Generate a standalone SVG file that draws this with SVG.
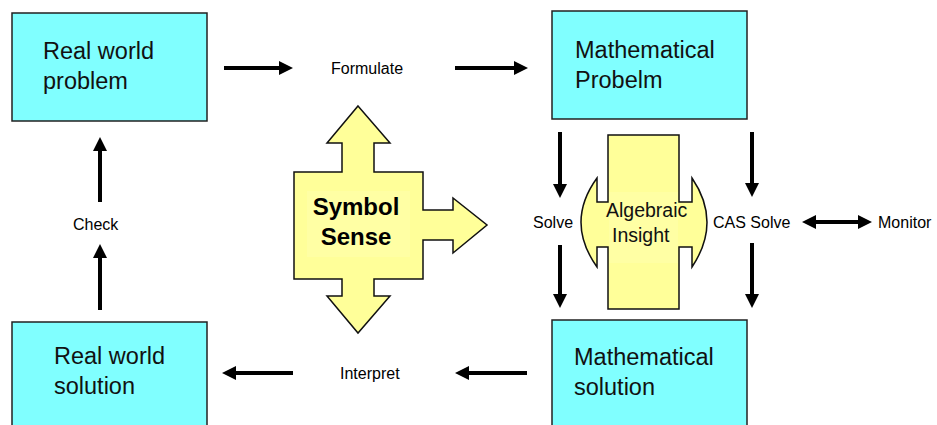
<svg xmlns="http://www.w3.org/2000/svg" width="937" height="425" viewBox="0 0 937 425">
<defs>
<marker id="ah" markerUnits="userSpaceOnUse" markerWidth="14" markerHeight="14" refX="5" refY="7" orient="auto-start-reverse" viewBox="0 0 14 14">
<path d="M0,0 L14,7 L0,14 Z" fill="#000"/>
</marker>
<style>
.box{fill:#80FFFF;stroke:#222;stroke-width:1.5}
.bt{font-family:"Liberation Sans",Arial,sans-serif;font-size:23.5px;fill:#111}
.lb{font-family:"Liberation Sans",Arial,sans-serif;font-size:16px;fill:#000}
.yl{fill:#FFFF99;stroke:#111;stroke-width:1.5}
.hl{fill:#FFFFA4}
.ar{stroke:#000;stroke-width:4;fill:none;marker-end:url(#ah)}
</style>
</defs>
<rect width="937" height="425" fill="#fff"/>
<g id="real-world-problem">
<rect class="box" x="12" y="13" width="195" height="108"/>
<text class="bt" x="43" y="59">Real world</text>
<text class="bt" x="43" y="89">problem</text>
</g>
<g id="mathematical-problem">
<rect class="box" x="552" y="11" width="195" height="108"/>
<text class="bt" x="575" y="58">Mathematical</text>
<text class="bt" x="575" y="88">Probelm</text>
</g>
<g id="real-world-solution">
<rect class="box" x="12" y="322" width="195" height="110"/>
<text class="bt" x="54" y="364">Real world</text>
<text class="bt" x="54" y="394">solution</text>
</g>
<g id="mathematical-solution">
<rect class="box" x="552" y="320" width="195" height="112"/>
<text class="bt" x="574" y="365">Mathematical</text>
<text class="bt" x="574" y="395">solution</text>
</g>
<g id="symbol-sense">
<path class="yl" d="M358,106 L390,143 L374,143 L374,172 L423,172 L423,210 L453,210 L453,198 L487,225 L453,253 L453,240 L423,240 L423,279 L374,279 L374,296 L390,296 L358,333 L327,296 L342,296 L342,279 L294,279 L294,172 L342,172 L342,143 L327,143 Z"/>
<rect class="hl" x="307" y="191" width="103" height="66"/>
<text x="356" y="215" text-anchor="middle" font-family="'Liberation Sans',Arial,sans-serif" font-weight="bold" font-size="24px" fill="#000">Symbol</text>
<text x="356" y="245" text-anchor="middle" font-family="'Liberation Sans',Arial,sans-serif" font-weight="bold" font-size="24px" fill="#000">Sense</text>
</g>
<g id="algebraic-insight">
<path class="yl" d="M608,135 L679,135 L679,202 L692,202 L692,178 Q722,222 692,267 L692,247 L679,247 L679,309 L608,309 L608,247 L597,247 L597,267 Q565,222 597,178 L597,202 L608,202 Z"/>
<rect class="hl" x="609" y="192" width="69" height="71"/>
<text x="606" y="217" font-family="'Liberation Sans',Arial,sans-serif" font-size="19.5px" fill="#111">Algebraic</text>
<text x="612" y="242" font-family="'Liberation Sans',Arial,sans-serif" font-size="19.5px" fill="#111">Insight</text>
</g>
<g id="connectors">
<line class="ar" x1="224" y1="68" x2="284" y2="68"/>
<line class="ar" x1="455" y1="68" x2="519" y2="68"/>
<line class="ar" x1="293" y1="373" x2="231" y2="373"/>
<line class="ar" x1="527" y1="373" x2="464" y2="373"/>
<line class="ar" x1="100" y1="202" x2="100" y2="146"/>
<line class="ar" x1="100" y1="310" x2="100" y2="253"/>
<line class="ar" x1="560" y1="132" x2="560" y2="189"/>
<line class="ar" x1="560" y1="245" x2="560" y2="299"/>
<line class="ar" x1="752" y1="132" x2="752" y2="188"/>
<line class="ar" x1="752" y1="243" x2="752" y2="299"/>
<line class="ar" x1="811" y1="222" x2="863" y2="222" style="marker-start:url(#ah)"/>
</g>
<g id="labels">
<text class="lb" x="331" y="74">Formulate</text>
<text class="lb" x="340" y="379">Interpret</text>
<text class="lb" x="73" y="230">Check</text>
<text class="lb" x="533" y="228">Solve</text>
<text class="lb" x="713" y="228">CAS Solve</text>
<text class="lb" x="878" y="228">Monitor</text>
</g>
</svg>
